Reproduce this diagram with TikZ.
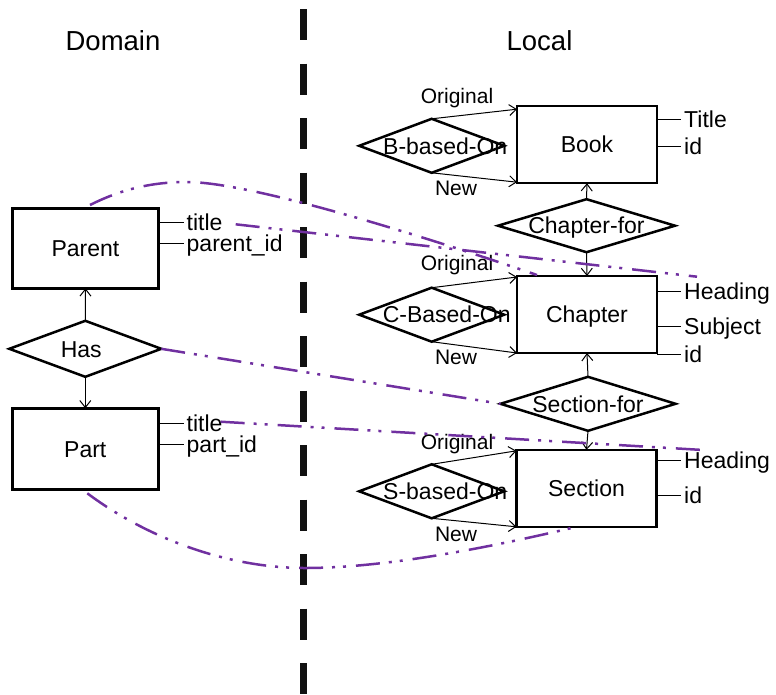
\documentclass[tikz,border=0pt]{standalone}
\usepackage{fontspec}
\setmainfont{Liberation Sans}
\usetikzlibrary{shapes.geometric,arrows.meta,calc}
\definecolor{mappurple}{HTML}{7030A0}
\definecolor{dividergray}{HTML}{111111}
\tikzset{
  entity/.style={draw, line width=2.5pt, rectangle, minimum width=140pt, minimum height=77pt,
    inner sep=0pt, outer sep=0pt, font=\fontsize{23}{27}\selectfont, text height=16.5pt, text depth=0pt},
  rel/.style={draw, line width=2.5pt, diamond, inner sep=0pt, outer sep=0pt,
    font=\fontsize{23}{27}\selectfont, text height=16.5pt, text depth=0pt},
  attr/.style={anchor=west, inner sep=3pt, font=\fontsize{23}{27}\selectfont, text height=16.5pt, text depth=0pt},
  attrline/.style={line width=1pt},
  conn/.style={line width=1pt, -{Straight Barb[length=7pt,width=11pt]}},
  role/.style={anchor=base, inner sep=0pt, font=\fontsize{21}{25}\selectfont},
  titletext/.style={font=\fontsize{27.5}{32}\selectfont, inner sep=0pt},
  mapping/.style={draw=mappurple, line width=2.5pt, dash pattern=on 24pt off 9pt on 3pt off 8pt on 3pt off 10pt},
  divider/.style={draw=dividergray, line width=7pt, dash pattern=on 31pt off 23.5pt}
}
\begin{document}
\begin{tikzpicture}[x=1pt,y=-1pt]
\useasboundingbox (0,0) rectangle (776,694);

% divider
\coordinate (divtop) at (303,9);
\coordinate (divbot) at (303,694);
\draw[divider] (divtop) -- (divbot);

% headings
\node[titletext] (domain) at (113,41) {Domain};
\node[titletext] (local) at (539.5,41) {Local};

% entities
\node[entity] (book) at (587,144.7) {Book};
\node[entity] (chapter) at (587,314.5) {Chapter};
\node[entity] (section) at (586.5,488.3) {Section};
\node[entity, minimum width=146pt, minimum height=80pt] (parent) at (85.5,248.3) {Parent};
\node[entity, minimum width=146pt, minimum height=81pt] (part) at (85.3,448.8) {Part};

% relationships
\node[rel, minimum width=145pt, minimum height=54pt] (bbased) at (431.7,145.8) {\makebox[0pt]{\hspace*{27pt}B-based-On}};
\node[rel, minimum width=145pt, minimum height=54pt] (cbased) at (431.7,314.7) {\makebox[0pt]{\hspace*{30pt}C-Based-On}};
\node[rel, minimum width=145pt, minimum height=54pt] (sbased) at (431.7,491.3) {\makebox[0pt]{\hspace*{27pt}S-based-On}};
\node[rel, minimum width=177pt, minimum height=53pt] (chapfor) at (586.5,225.7) {\makebox[0pt]{Chapter-for}};
\node[rel, minimum width=175pt, minimum height=54pt] (secfor) at (588,403.8) {\makebox[0pt]{Section-for}};
\node[rel, minimum width=152pt, minimum height=56pt] (has) at (85.3,348.8) {\makebox[0pt]{Has\hspace*{8pt}}};

% attributes
\node[attr] (btitle) at (681,119.3) {Title};
\node[attr] (bid) at (681,146) {id};
\node[attr] (chead) at (681,291.7) {Heading};
\node[attr] (csubj) at (681,326) {Subject};
\node[attr] (cid) at (681,354) {id};
\node[attr] (shead) at (681,460.7) {Heading};
\node[attr] (sid) at (681,495) {id};
\node[attr] (ptitle) at (183.5,222.3) {title};
\node[attr] (pid) at (183.5,243.3) {parent\_id};
\node[attr] (rtitle) at (183.5,423.3) {title};
\node[attr] (rid) at (183.5,444.3) {part\_id};

\foreach \e/\a in {book/btitle, book/bid, chapter/chead, chapter/csubj, chapter/cid,
                   section/shead, section/sid, parent/ptitle, parent/pid, part/rtitle, part/rid}
  \draw[attrline] (\e.east |- \a.west) -- (\a.west);

% connectors
\draw[conn] (bbased.north) -- ([yshift=-3pt]book.north west);
\draw[conn] (bbased.south) -- ([yshift=1pt]book.south west);
\draw[conn] (cbased.north) -- ([yshift=-1pt]chapter.north west);
\draw[conn] (cbased.south) -- (chapter.south west);
\draw[conn] (sbased.north) -- ([yshift=-1pt]section.north west);
\draw[conn] (sbased.south) -- (section.south west);
\draw[conn] (chapfor.north) -- (book.south);
\draw[conn] (chapfor.south) -- (chapter.north);
\draw[conn] (secfor.north) -- (chapter.south);
\draw[conn] (secfor.south) -- (section.north);
\draw[conn] (has.north) -- (parent.south);
\draw[conn] (has.south) -- (part.north);

% role labels
\node[role] (borig) at (457,103.3) {Original};
\node[role] (bnew) at (456,195.7) {New};
\node[role] (corig) at (457,270.7) {Original};
\node[role] (cnew) at (456,364.3) {New};
\node[role] (sorig) at (457,449) {Original};
\node[role] (snew) at (456,541.7) {New};

% mappings
\coordinate (toppeak) at (187,182);
\coordinate (botlow) at (305,568);
\coordinate (m2end) at (697,276.7);
\coordinate (m4end) at (703.3,450);
\draw[mapping] ($(parent.north)+(4.5,-3.3)$) .. controls (120,190) and (150,182) .. (toppeak)
  .. controls (250,182) and (420,235) .. ($(chapter.north west)+(20,-1)$);
\draw[mapping] ($(ptitle.east)+(10,2)$) -- (m2end);
\draw[mapping] (has.east) -- (secfor.west);
\draw[mapping] ($(rtitle.east)+(-5,-1.6)$) -- (m4end);
\draw[mapping] ($(part.south)+(2,4)$) .. controls (150,540) and (230,568) .. (botlow)
  .. controls (390,568) and (500,545) .. ($(section.south)+(-10,0)$);
\end{tikzpicture}
\end{document}
